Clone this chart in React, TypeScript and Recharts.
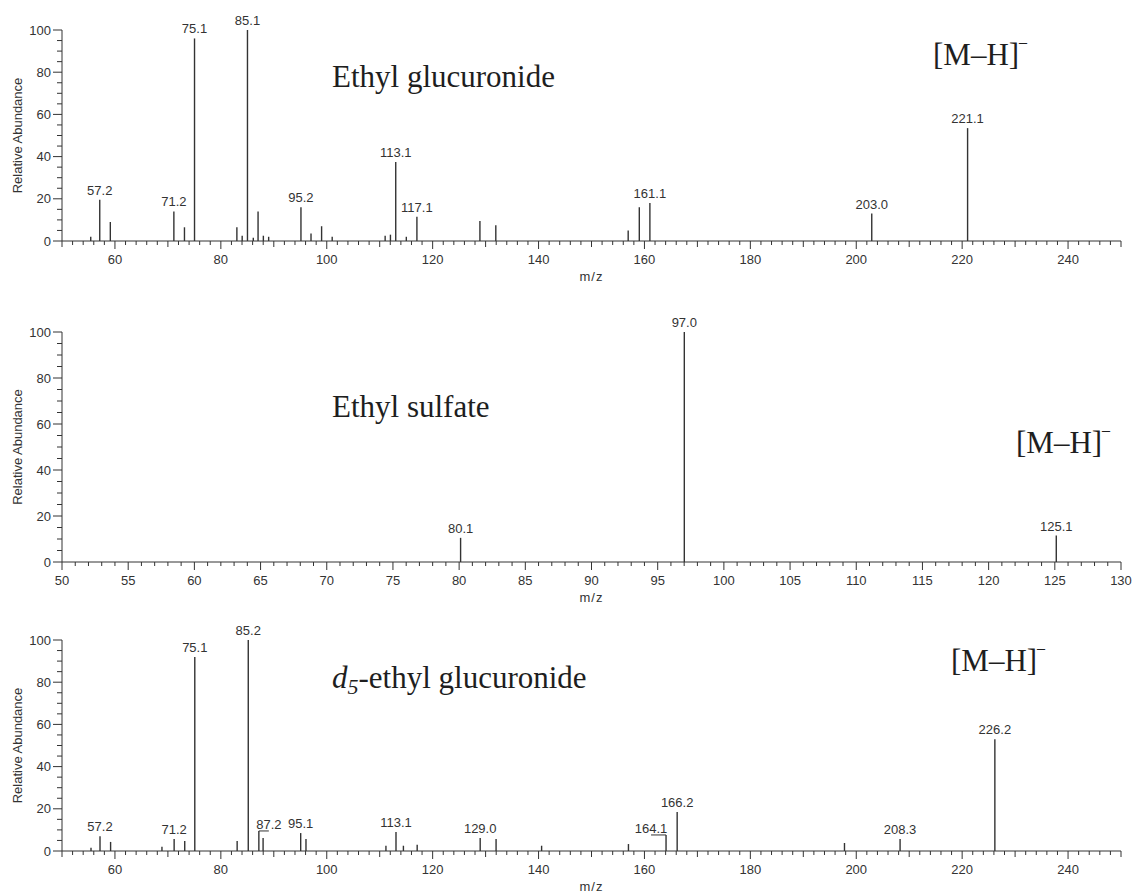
import React from 'react';
import { ComposedChart, Bar, XAxis, YAxis } from 'recharts';

// ---------- Data ----------
// Ethyl glucuronide
const EG_MZ = [55.5, 57.2, 59.2, 71.2, 73.2, 75.1, 83.1, 84.1, 85.1, 86.2, 87.1, 88.1, 89.1, 95.2, 97.1, 99.1, 101.1, 111.1, 112.1, 113.1, 115.1, 117.1, 129.0, 132.0, 157.0, 159.1, 161.1, 203.0, 221.1];
const EG_INT = [2, 19.5, 9, 14, 6.5, 96, 6.5, 2.5, 100, 1.5, 14, 2.5, 2, 16, 3.5, 7, 2, 2.5, 3, 37.5, 2, 11.5, 9.5, 7.5, 5, 16, 18, 13, 53.5];
const EG_LABELS = ['57.2', '71.2', '75.1', '85.1', '95.2', '113.1', '117.1', '161.1', '203.0', '221.1'];

// Ethyl sulfate
const ES_MZ = [80.1, 97.0, 125.1];
const ES_INT = [10.5, 100, 11.5];
const ES_LABELS = ['80.1', '97.0', '125.1'];

// d5-ethyl glucuronide
const D5_MZ = [55.5, 57.2, 59.2, 68.9, 71.2, 73.2, 75.1, 83.1, 85.2, 87.2, 88.0, 95.1, 96.1, 111.2, 113.1, 114.5, 117.1, 129.0, 132.0, 140.6, 157.0, 164.1, 166.2, 197.8, 208.3, 226.2];
const D5_INT = [1.5, 7, 4.3, 2, 5.7, 4.7, 92, 4.7, 100, 9.5, 6.2, 8.5, 5.7, 2.5, 9, 2.5, 3, 6.2, 5.7, 2.5, 3.3, 7.6, 18.5, 3.8, 5.7, 53];
const D5_LABELS = ['57.2', '71.2', '75.1', '85.2', '87.2', '95.1', '113.1', '129.0', '164.1', '166.2', '208.3', '226.2'];

// axis ticks
const WIDE_MAJOR_TICKS = [60, 80, 100, 120, 140, 160, 180, 200, 220, 240];
const WIDE_MID_TICKS = [50, 70, 90, 110, 130, 150, 170, 190, 210, 230, 250];
const ES_MAJOR_TICKS = [50, 55, 60, 65, 70, 75, 80, 85, 90, 95, 100, 105, 110, 115, 120, 125, 130];
const Y_MAJOR_TICKS = [0, 20, 40, 60, 80, 100];

// ---------- Styles ----------
const SANS = '"Liberation Sans", Arial, sans-serif';
const SERIF = '"Liberation Serif", "Times New Roman", serif';
const INK = '#333';
const TITLE_INK = '#1e1e1e';
// labels drawn beside their peak with a leader line (horizontal offset in px)
const LEADER_OFFSETS: Record<string, number> = { '87.2': 10, '164.1': -15 };

const range = (a: number, b: number, s: number) => {
  const r: number[] = [];
  for (let i = 0; a + i * s <= b + 1e-9; i++) r.push(Math.round((a + i * s) * 100) / 100);
  return r;
};

const build = (mz: number[], ints: number[], labels: string[]) =>
  mz.map((m, i) => ({ mz: m, int: ints[i], label: labels.includes(m.toFixed(1)) ? m.toFixed(1) : '' }));

const Stick = (props: any) => {
  const { x, y, width, height, payload } = props;
  if (x == null || y == null) return null;
  const cx = x + width / 2;
  const label: string = payload && payload.label;
  const off = label ? LEADER_OFFSETS[label] : undefined;
  return (
    <g>
      <line x1={cx} x2={cx} y1={y} y2={y + height} stroke={INK} strokeWidth={1.4} />
      {label && off === undefined && (
        <text x={cx} y={y - 5} textAnchor="middle" fontSize={13} fontFamily={SANS} fill={INK}>{label}</text>
      )}
      {label && off !== undefined && (
        <g>
          <line x1={cx} x2={cx + off} y1={y} y2={y} stroke={INK} strokeWidth={1} />
          <text x={cx + off} y={y - 2} textAnchor="middle" fontSize={13} fontFamily={SANS} fill={INK}>{label}</text>
        </g>
      )}
    </g>
  );
};

const makeXTick = (major: number[], mid: number[]) => (props: any) => {
  const { x, y, payload } = props;
  const v = payload.value;
  const isMajor = major.includes(v);
  const len = isMajor ? 8 : mid.includes(v) ? 6 : 4;
  return (
    <g>
      <line x1={x} x2={x} y1={y} y2={y + len} stroke={INK} strokeWidth={1} />
      {isMajor && (
        <text x={x} y={y + 23} textAnchor="middle" fontSize={13} fontFamily={SANS} fill={INK}>{v}</text>
      )}
    </g>
  );
};

const YTick = (props: any) => {
  const { x, y, payload } = props;
  const v = payload.value;
  const isMajor = Y_MAJOR_TICKS.includes(v);
  return (
    <g>
      <line x1={x} x2={x - (isMajor ? 9 : 5)} y1={y} y2={y} stroke={INK} strokeWidth={1} />
      {isMajor && (
        <text x={x - 11} y={y + 4.5} textAnchor="end" fontSize={13} fontFamily={SANS} fill={INK}>{v}</text>
      )}
    </g>
  );
};

const YLabel = (props: any) => {
  const vb = props.viewBox || {};
  const cx = vb.x + 17;
  const cy = vb.y + vb.height / 2;
  return (
    <text x={cx} y={cy} transform={`rotate(-90 ${cx} ${cy})`} textAnchor="middle" dominantBaseline="central" fontSize={13} fontFamily={SANS} fill={INK}>
      Relative Abundance
    </text>
  );
};

const XLabel = (props: any) => {
  const vb = props.viewBox || {};
  return (
    <text x={vb.x + vb.width / 2} y={vb.y + 40} textAnchor="middle" fontSize={13} fontFamily={SANS} fill={INK} letterSpacing={1}>
      m/z
    </text>
  );
};

type PanelProps = {
  data: { mz: number; int: number; label: string }[];
  xMin: number;
  xMax: number;
  minorStep: number;
  major: number[];
  mid: number[];
  top: number;
  height: number;
  marginTop: number;
  xAxisHeight: number;
  children?: React.ReactNode;
};

const Panel = ({ data, xMin, xMax, minorStep, major, mid, top, height, marginTop, xAxisHeight, children }: PanelProps) => (
  <div style={{ position: 'absolute', left: 0, top, width: 1132, height }}>
    <ComposedChart width={1132} height={height} data={data} margin={{ top: marginTop, right: 11, bottom: 0, left: 0 }} style={{ overflow: 'visible' }}>
      <XAxis
        type="number"
        dataKey="mz"
        domain={[xMin, xMax]}
        ticks={range(xMin, xMax, minorStep)}
        interval={0}
        tickSize={0}
        tickMargin={0}
        tick={makeXTick(major, mid)}
        height={xAxisHeight}
        stroke={INK}
        label={<XLabel />}
      />
      <YAxis
        type="number"
        domain={[0, 100]}
        ticks={range(0, 100, 5)}
        interval={0}
        tickSize={0}
        tickMargin={0}
        tick={<YTick />}
        width={62}
        stroke={INK}
        label={<YLabel />}
      />
      <Bar dataKey="int" barSize={2} isAnimationActive={false} shape={<Stick />} />
    </ComposedChart>
    <svg width={1132} height={height} style={{ position: 'absolute', left: 0, top: 0, pointerEvents: 'none' }}>
      {children}
    </svg>
  </div>
);

const MH = ({ x, y }: { x: number; y: number }) => (
  <text x={x} y={y} fontSize={31} fontFamily={SERIF} fill={TITLE_INK}>
    [M–H]
    <tspan fontSize={16} dy={-18}>–</tspan>
  </text>
);

export default function App() {
  return (
    <div style={{ position: 'absolute', left: 0, top: 0, width: 1132, height: 896, background: '#fff' }}>
      <Panel data={build(EG_MZ, EG_INT, EG_LABELS)} xMin={50} xMax={250} minorStep={2} major={WIDE_MAJOR_TICKS} mid={WIDE_MID_TICKS}
        top={0} height={290} marginTop={30} xAxisHeight={49}>
        <text x={332} y={87} fontSize={31} fontFamily={SERIF} fill={TITLE_INK}>Ethyl glucuronide</text>
        <MH x={933} y={65} />
      </Panel>
      <Panel data={build(ES_MZ, ES_INT, ES_LABELS)} xMin={50} xMax={130} minorStep={1} major={ES_MAJOR_TICKS} mid={[]}
        top={300} height={308} marginTop={32} xAxisHeight={46}>
        <text x={332} y={117} fontSize={31} fontFamily={SERIF} fill={TITLE_INK}>Ethyl sulfate</text>
        <MH x={1016} y={153} />
      </Panel>
      <Panel data={build(D5_MZ, D5_INT, D5_LABELS)} xMin={50} xMax={250} minorStep={2} major={WIDE_MAJOR_TICKS} mid={WIDE_MID_TICKS}
        top={608} height={288} marginTop={32} xAxisHeight={45}>
        <text x={332} y={80} fontSize={31} fontFamily={SERIF} fill={TITLE_INK}>
          <tspan fontStyle="italic">d</tspan>
          <tspan fontStyle="italic" fontSize={22} dy={6}>5</tspan>
          <tspan dy={-6}>-ethyl glucuronide</tspan>
        </text>
        <MH x={951} y={63} />
      </Panel>
    </div>
  );
}
